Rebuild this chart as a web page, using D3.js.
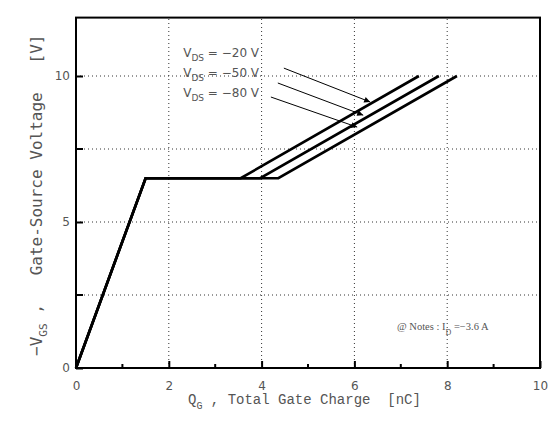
<!DOCTYPE html>
<html>
<head>
<meta charset="utf-8">
<script src="https://cdn.jsdelivr.net/npm/d3@7"></script>
<style>
  body { margin: 0; background: #fff; }
  svg { display: block; }
</style>
</head>
<body>
<svg width="551" height="421"></svg>
<script>
// gate charge curves, one per V_DS
var vdsLabels = ['-20 V', '-50 V', '-80 V']
var riseQ = [0, 1.5]          // nC, linear rise up to plateau
var riseV = [0, 6.5]
var plateauEndQ = [3.55, 3.97, 4.36]
var topQ = [7.39, 7.82, 8.21]
var topV = 10
// arrow annotations [x1, y1, x2, y2] in data units
var arrows = [
  [4.48, 10.27, 6.34, 9.11],
  [4.35, 9.76, 6.19, 8.66],
  [4.20, 9.28, 6.06, 8.25]
]
var labelQ = 2.31
var labelV = [10.65, 9.97, 9.28]
var xTicks = [0, 2, 4, 6, 8, 10]
var xMinor = [1, 3, 5, 7, 9]
var yTicks = [0, 5, 10]
var yMinor = [2.5, 7.5]

var svg = d3.select('svg')
var margin = {top: 16, right: 11, bottom: 53, left: 76}
var width = 551, height = 421

var x = d3.scaleLinear().domain([0, 10]).range([margin.left, width - margin.right])
var y = d3.scaleLinear().domain([0, 12]).range([height - margin.bottom, height - margin.bottom - 12 * 29.2])

var grey = '#555'

// dotted grid
var grid = svg.append('g').attr('stroke', '#333').attr('stroke-width', 1).attr('stroke-dasharray', '1,3')
grid.selectAll('.gx').data([2, 4, 6, 8]).enter().append('line')
  .attr('x1', d => x(d)).attr('x2', d => x(d))
  .attr('y1', y(0)).attr('y2', y(12))
grid.selectAll('.gy').data([2.5, 5, 7.5, 10]).enter().append('line')
  .attr('y1', d => y(d)).attr('y2', d => y(d))
  .attr('x1', x(0)).attr('x2', x(10))

// axes with inward ticks
var xAxis = d3.axisBottom(x).tickValues(xTicks).tickSizeInner(-7).tickSizeOuter(0).tickPadding(13)
var yAxis = d3.axisLeft(y).tickValues(yTicks).tickSizeInner(-7).tickSizeOuter(0).tickPadding(6)

var gx = svg.append('g').attr('transform', `translate(0,${y(0)})`).call(xAxis)
var gy = svg.append('g').attr('transform', `translate(${x(0)},0)`).call(yAxis)
;[gx, gy].forEach(g => {
  g.select('.domain').remove()
  g.selectAll('.tick line').attr('stroke', '#000').attr('stroke-width', 2)
  g.selectAll('.tick text').attr('fill', grey).style('font-family', 'DejaVu Sans').style('font-size', '12px')
})

svg.append('g').attr('stroke', '#000').attr('stroke-width', 2)
  .selectAll('line').data(xMinor).enter().append('line')
  .attr('x1', d => x(d)).attr('x2', d => x(d)).attr('y1', y(0)).attr('y2', y(0) - 4)
svg.append('g').attr('stroke', '#000').attr('stroke-width', 2)
  .selectAll('line').data(yMinor).enter().append('line')
  .attr('y1', d => y(d)).attr('y2', d => y(d)).attr('x1', x(0)).attr('x2', x(0) + 7)

// frame
svg.append('rect')
  .attr('x', x(0)).attr('y', y(12))
  .attr('width', x(10) - x(0)).attr('height', y(0) - y(12))
  .attr('fill', 'none').attr('stroke', '#000').attr('stroke-width', 2)

// curves
var line = d3.line().x(d => x(d[0])).y(d => y(d[1]))
var curves = plateauEndQ.map((q, i) => [
  [riseQ[0], riseV[0]], [riseQ[1], riseV[1]], [q, riseV[1]], [topQ[i], topV]
])
svg.append('g').selectAll('path').data(curves).enter().append('path')
  .attr('d', line)
  .attr('fill', 'none').attr('stroke', '#000').attr('stroke-width', 2.6)
  .attr('stroke-linejoin', 'miter')

// arrows
svg.append('defs').append('marker')
  .attr('id', 'head').attr('viewBox', '0 0 10 10')
  .attr('refX', 10).attr('refY', 5)
  .attr('markerWidth', 9).attr('markerHeight', 6)
  .attr('markerUnits', 'userSpaceOnUse')
  .attr('orient', 'auto')
  .append('path').attr('d', 'M0,0L10,5L0,10Z').attr('fill', '#000')

svg.append('g').selectAll('line').data(arrows).enter().append('line')
  .attr('x1', d => x(d[0])).attr('y1', d => y(d[1]))
  .attr('x2', d => x(d[2])).attr('y2', d => y(d[3]))
  .attr('stroke', '#000').attr('stroke-width', 1)
  .attr('marker-end', 'url(#head)')

// V_DS labels
var lab = svg.append('g').attr('fill', grey).style('font-family', 'DejaVu Sans').style('font-size', '12px')
vdsLabels.forEach((t, i) => {
  var tx = lab.append('text').attr('x', x(labelQ)).attr('y', y(labelV[i]))
  tx.append('tspan').text('V')
  tx.append('tspan').attr('dy', 4).style('font-size', '9px').text('DS')
  tx.append('tspan').attr('dy', -4).text(' = ' + t.replace('-', '\u2212'))
})

// note
var note = svg.append('text').attr('x', x(6.92)).attr('y', y(1.30))
  .attr('fill', grey).style('font-family', 'Liberation Serif').style('font-size', '10.5px')
  .style('white-space', 'pre')
note.append('tspan').text('@ Notes : I')
note.append('tspan').attr('dy', 5).style('font-size', '8px').text('D')
note.append('tspan').attr('dy', -5).text(' =\u22123.6 A')

// x label
var xl = svg.append('text').attr('x', 188).attr('y', 404)
  .attr('fill', grey).style('font-family', 'Liberation Mono').style('font-size', '14px')
  .style('white-space', 'pre')
xl.append('tspan').text('Q')
xl.append('tspan').attr('dy', 5).style('font-size', '10px').text('G')
xl.append('tspan').attr('dy', -5).text(' , Total Gate Charge  [nC]')

// y label
var yl = svg.append('text')
  .attr('transform', 'translate(42,356) rotate(-90)')
  .attr('fill', grey).style('font-family', 'DejaVu Sans Mono').style('font-size', '16px')
  .style('white-space', 'pre')
yl.append('tspan').text('\u2212V')
yl.append('tspan').attr('dy', 5).style('font-size', '11px').text('GS')
yl.append('tspan').attr('dy', -5).text(' ,   Gate-Source Voltage   [V]')
</script>
</body>
</html>
